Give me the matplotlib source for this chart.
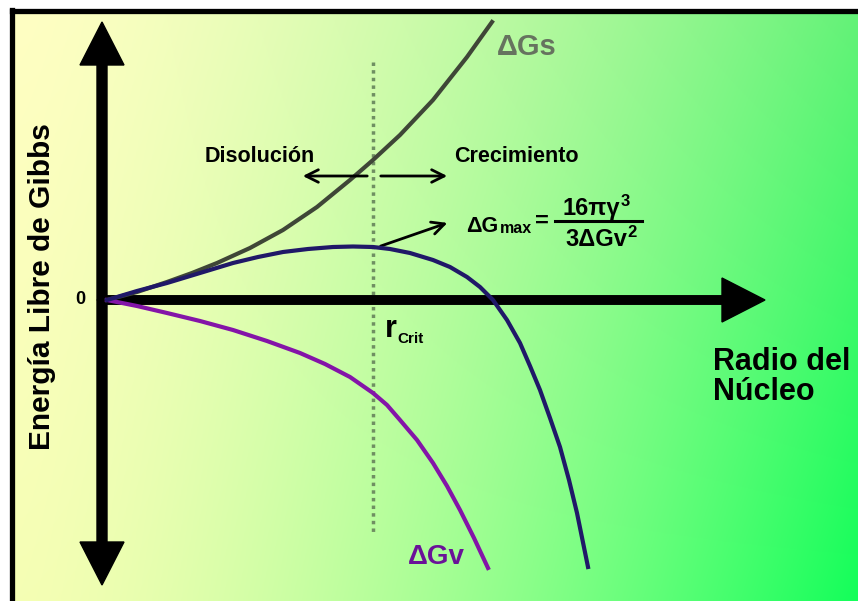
import numpy as np
import matplotlib
matplotlib.use("Agg")
import matplotlib.pyplot as plt
from matplotlib.patches import FancyArrow

plt.rcParams['font.family'] = ['Liberation Sans', 'DejaVu Sans']
plt.rcParams['font.weight'] = 'bold'

# curves (radius, energy) in arbitrary units
# surface term
r_s = [0, 0.30, 0.60, 0.85, 1.10, 1.43, 1.76, 2.10, 2.43, 2.66, 2.93, 3.26, 3.60, 3.85]
g_s = [0, 0.08, 0.18, 0.27, 0.37, 0.52, 0.70, 0.93, 1.20, 1.40, 1.65, 2.00, 2.43, 2.78]

# total
r_t = [0, 0.30, 0.60, 0.93, 1.26, 1.51, 1.76, 2.01, 2.26, 2.46, 2.66, 2.83, 3.03, 3.26,
       3.43, 3.60, 3.73, 3.86, 4.00, 4.13, 4.23, 4.33, 4.43, 4.53, 4.62, 4.70, 4.81]
g_t = [0, 0.09, 0.17, 0.27, 0.37, 0.43, 0.48, 0.51, 0.53, 0.535, 0.53, 0.51, 0.47, 0.40,
       0.33, 0.23, 0.13, 0.0, -0.20, -0.43, -0.66, -0.90, -1.18, -1.47, -1.80, -2.13, -2.67]

# volume term
r_v = [0, 0.30, 0.60, 0.93, 1.26, 1.60, 1.93, 2.18, 2.43, 2.66, 2.80, 2.93, 3.10, 3.26,
       3.40, 3.53, 3.67, 3.81]
g_v = [0, -0.06, -0.13, -0.21, -0.30, -0.41, -0.53, -0.64, -0.77, -0.93, -1.05, -1.20,
       -1.40, -1.63, -1.86, -2.10, -2.38, -2.68]

r_crit = 2.66

fig = plt.figure(figsize=(8.58, 6.01), dpi=100, facecolor='white')
ax = fig.add_axes([12 / 858, 0, 1 - 12 / 858, 1 - 10.5 / 601])
x0, x1 = -0.95, 7.51
y0, y1 = -3.01, 2.895
ax.set_xlim(x0, x1)
ax.set_ylim(y0, y1)
ax.set_xticks([])
ax.set_yticks([])
for s in ['right', 'bottom']:
    ax.spines[s].set_visible(False)
for s in ['left', 'top']:
    ax.spines[s].set_linewidth(3.8)
    ax.spines[s].set_color('black')

# background gradient yellow -> green
h, w = 300, 430
u = np.linspace(0, 1, w)[None, :] ** 1.5
v = np.linspace(0, 1, h)[:, None]
tl = np.array([255, 255, 195]) / 255
tr = np.array([100, 242, 120]) / 255
bl = np.array([245, 255, 180]) / 255
br = np.array([20, 255, 90]) / 255
img = ((1 - u)[..., None] * (1 - v)[..., None] * tl + u[..., None] * (1 - v)[..., None] * tr
       + (1 - u)[..., None] * v[..., None] * bl + u[..., None] * v[..., None] * br)
ax.imshow(img, extent=(x0, x1, y0, y1), origin='upper', aspect='auto', zorder=0)

# dotted critical radius line
ax.plot([r_crit, r_crit], [2.38, -2.35], ls=(0, (1, 1.2)), color='#6f8f62', lw=2.5, zorder=1)

# axes arrows
ax.add_patch(FancyArrow(-0.07, 0, 6.65, 0, width=0.085, head_width=0.44, head_length=0.43,
                        length_includes_head=True, color='black', zorder=2))
ax.add_patch(FancyArrow(-0.05, 0, 0, 2.78, width=0.1, head_width=0.44, head_length=0.43,
                        length_includes_head=True, color='black', zorder=2))
ax.add_patch(FancyArrow(-0.05, 0, 0, -2.85, width=0.1, head_width=0.44, head_length=0.43,
                        length_includes_head=True, color='black', zorder=2))

# curves
ax.plot(r_s, g_s, color='#3f4637', lw=3.0, zorder=3, solid_joinstyle='round')
ax.plot(r_v, g_v, color='#8414a8', lw=3.0, zorder=3, solid_joinstyle='round')
ax.plot(r_t, g_t, color='#201868', lw=3.0, zorder=4, solid_joinstyle='round')

# dissolution / growth arrows
arr = dict(arrowstyle='->,head_length=0.9,head_width=0.45', color='black', lw=2)
ax.annotate('', xy=(1.93, 1.24), xytext=(2.63, 1.24), arrowprops=arr)
ax.annotate('', xy=(3.43, 1.24), xytext=(2.71, 1.24), arrowprops=arr)
ax.annotate('', xy=(3.43, 0.78), xytext=(2.71, 0.53), arrowprops=arr)

ax.text(1.53, 1.43, 'Disolución', fontsize=15.5, ha='center', va='center')
ax.text(4.09, 1.43, 'Crecimiento', fontsize=15.5, ha='center', va='center')

# formula
ax.text(3.59, 0.68, 'ΔG', fontsize=15.5, ha='left', va='baseline')
ax.text(3.93, 0.67, 'max', fontsize=11.5, ha='left', va='baseline')
ax.text(4.35, 0.72, '=', fontsize=17, ha='center', va='baseline')
num = ax.text(4.55, 0.85, '16πγ', fontsize=17, ha='left', va='baseline')
ax.annotate('3', xy=(1, 1), xycoords=num, xytext=(0.5, 2), textcoords='offset points',
            fontsize=12, ha='left', va='top')
ax.plot([4.48, 5.35], [0.79, 0.79], color='black', lw=2.2)
den = ax.text(4.58, 0.54, '3ΔGv', fontsize=17, ha='left', va='baseline')
ax.annotate('2', xy=(1, 1), xycoords=den, xytext=(0.5, 2), textcoords='offset points',
            fontsize=12, ha='left', va='top')

# labels
ax.text(4.20, 2.53, 'ΔGs', fontsize=21, color='#66735f', ha='center', va='center')
ax.text(3.29, -2.57, 'ΔGv', fontsize=20, color='#6a1298', ha='center', va='center')
ax.text(-0.27, 0.0, '0', fontsize=13, ha='center', va='center')
ax.text(2.78, -0.37, 'r', fontsize=22, ha='left', va='baseline')
ax.text(2.90, -0.43, 'Crit', fontsize=11, ha='left', va='baseline')
ax.text(6.06, -1.00, 'Radio del\nNúcleo', fontsize=22, ha='left', va='baseline',
        linespacing=1.0)
ax.text(-0.65, 0.13, 'Energía Libre de Gibbs', fontsize=21.5, rotation=90,
        ha='center', va='center')

fig.savefig('out.png', dpi=100, facecolor='white')
